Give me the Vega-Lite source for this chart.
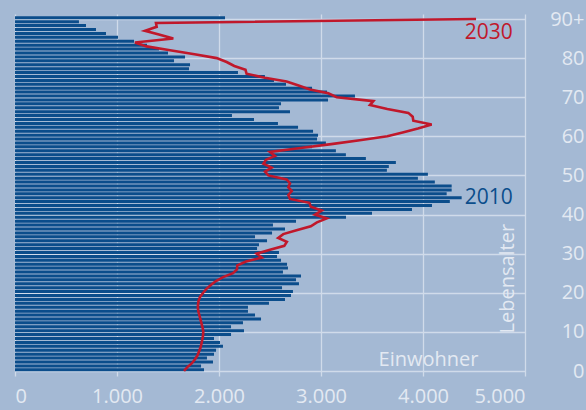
{
  "$schema": "https://vega.github.io/schema/vega-lite/v6.json",
  "width": 510,
  "height": 362,
  "autosize": {"type": "none"},
  "padding": {"left": 15, "top": 14, "right": 61, "bottom": 34},
  "background": "#a4b9d4",
  "config": {
    "view": {"stroke": null},
    "font": "Open Sans",
    "axis": {
      "grid": true,
      "gridColor": "#d0dbea",
      "gridWidth": 1.3,
      "gridOpacity": 1,
      "domain": false,
      "ticks": false,
      "tickSize": 0,
      "labelColor": "#e3e9f2",
      "labelFont": "Open Sans",
      "labelFontSize": 20,
      "titleColor": "#e3e9f2",
      "titleFont": "Open Sans",
      "titleFontSize": 20,
      "titleFontWeight": "normal"
    }
  },
  "datasets": {
    "pop": [
      {"age": 0, "v2010": 1853, "v2030": 1657},
      {"age": 1, "v2010": 1824, "v2030": 1690},
      {"age": 2, "v2010": 1941, "v2030": 1735},
      {"age": 3, "v2010": 1882, "v2030": 1765},
      {"age": 4, "v2010": 1951, "v2030": 1789},
      {"age": 5, "v2010": 1971, "v2030": 1804},
      {"age": 6, "v2010": 2039, "v2030": 1819},
      {"age": 7, "v2010": 2010, "v2030": 1828},
      {"age": 8, "v2010": 1951, "v2030": 1836},
      {"age": 9, "v2010": 2118, "v2030": 1843},
      {"age": 10, "v2010": 2245, "v2030": 1846},
      {"age": 11, "v2010": 2118, "v2030": 1840},
      {"age": 12, "v2010": 2235, "v2030": 1830},
      {"age": 13, "v2010": 2412, "v2030": 1820},
      {"age": 14, "v2010": 2353, "v2030": 1810},
      {"age": 15, "v2010": 2284, "v2030": 1800},
      {"age": 16, "v2010": 2284, "v2030": 1793},
      {"age": 17, "v2010": 2490, "v2030": 1794},
      {"age": 18, "v2010": 2647, "v2030": 1800},
      {"age": 19, "v2010": 2706, "v2030": 1815},
      {"age": 20, "v2010": 2725, "v2030": 1845},
      {"age": 21, "v2010": 2618, "v2030": 1877},
      {"age": 22, "v2010": 2784, "v2030": 1920},
      {"age": 23, "v2010": 2755, "v2030": 1970},
      {"age": 24, "v2010": 2804, "v2030": 2040},
      {"age": 25, "v2010": 2627, "v2030": 2137},
      {"age": 26, "v2010": 2676, "v2030": 2176},
      {"age": 27, "v2010": 2667, "v2030": 2180},
      {"age": 28, "v2010": 2608, "v2030": 2265},
      {"age": 29, "v2010": 2569, "v2030": 2420},
      {"age": 30, "v2010": 2588, "v2030": 2370},
      {"age": 31, "v2010": 2373, "v2030": 2500},
      {"age": 32, "v2010": 2392, "v2030": 2640},
      {"age": 33, "v2010": 2471, "v2030": 2665},
      {"age": 34, "v2010": 2353, "v2030": 2580},
      {"age": 35, "v2010": 2520, "v2030": 2630},
      {"age": 36, "v2010": 2647, "v2030": 2760},
      {"age": 37, "v2010": 2529, "v2030": 2900},
      {"age": 38, "v2010": 2755, "v2030": 2960},
      {"age": 39, "v2010": 3245, "v2030": 3056},
      {"age": 40, "v2010": 3500, "v2030": 2941},
      {"age": 41, "v2010": 3892, "v2030": 3007},
      {"age": 42, "v2010": 4088, "v2030": 2900},
      {"age": 43, "v2010": 4263, "v2030": 2886},
      {"age": 44, "v2010": 4379, "v2030": 2696},
      {"age": 45, "v2010": 4232, "v2030": 2680},
      {"age": 46, "v2010": 4281, "v2030": 2713},
      {"age": 47, "v2010": 4281, "v2030": 2680},
      {"age": 48, "v2010": 4116, "v2030": 2696},
      {"age": 49, "v2010": 3950, "v2030": 2663},
      {"age": 50, "v2010": 4048, "v2030": 2484},
      {"age": 51, "v2010": 3646, "v2030": 2451},
      {"age": 52, "v2010": 3665, "v2030": 2516},
      {"age": 53, "v2010": 3734, "v2030": 2435},
      {"age": 54, "v2010": 3440, "v2030": 2461},
      {"age": 55, "v2010": 3244, "v2030": 2549},
      {"age": 56, "v2010": 3146, "v2030": 2500},
      {"age": 57, "v2010": 2912, "v2030": 2800},
      {"age": 58, "v2010": 3048, "v2030": 3100},
      {"age": 59, "v2010": 2961, "v2030": 3380},
      {"age": 60, "v2010": 2971, "v2030": 3650},
      {"age": 61, "v2010": 2922, "v2030": 3800},
      {"age": 62, "v2010": 2775, "v2030": 3950},
      {"age": 63, "v2010": 2578, "v2030": 4085},
      {"age": 64, "v2010": 2343, "v2030": 3905},
      {"age": 65, "v2010": 2127, "v2030": 3899},
      {"age": 66, "v2010": 2696, "v2030": 3856},
      {"age": 67, "v2010": 2588, "v2030": 3650},
      {"age": 68, "v2010": 2608, "v2030": 3480},
      {"age": 69, "v2010": 3069, "v2030": 3513},
      {"age": 70, "v2010": 3333, "v2030": 3154},
      {"age": 71, "v2010": 3059, "v2030": 3072},
      {"age": 72, "v2010": 2912, "v2030": 2892},
      {"age": 73, "v2010": 2657, "v2030": 2780},
      {"age": 74, "v2010": 2539, "v2030": 2663},
      {"age": 75, "v2010": 2450, "v2030": 2450},
      {"age": 76, "v2010": 2186, "v2030": 2270},
      {"age": 77, "v2010": 1706, "v2030": 2260},
      {"age": 78, "v2010": 1716, "v2030": 2150},
      {"age": 79, "v2010": 1559, "v2030": 2075},
      {"age": 80, "v2010": 1667, "v2030": 1977},
      {"age": 81, "v2010": 1500, "v2030": 1760},
      {"age": 82, "v2010": 1412, "v2030": 1520},
      {"age": 83, "v2010": 1294, "v2030": 1290},
      {"age": 84, "v2010": 1167, "v2030": 1176},
      {"age": 85, "v2010": 1010, "v2030": 1552},
      {"age": 86, "v2010": 892, "v2030": 1420},
      {"age": 87, "v2010": 794, "v2030": 1275},
      {"age": 88, "v2010": 696, "v2030": 1389},
      {"age": 89, "v2010": 627, "v2030": 1382},
      {"age": 90, "v2010": 2059, "v2030": 4520}
    ],
    "labels": [
      {"x": 4880, "age": 86.3, "text": "2030", "series": "2030"},
      {"x": 4880, "age": 44.3, "text": "2010", "series": "2010"}
    ]
  },
  "layer": [
    {
      "data": {"name": "pop"},
      "mark": {"type": "bar", "orient": "horizontal", "size": 3, "color": "#0b4d8b", "yOffset": -1.2},
      "encoding": {
        "x": {
          "field": "v2010", "type": "quantitative",
          "scale": {"domain": [0, 5000], "nice": false},
          "axis": {
            "values": [0, 1000, 2000, 3000, 4000, 5000],
            "labelExpr": "replace(format(datum.value, ',d'), ',', '.')",
            "labelPadding": 10,
            "labelBaseline": "top",
            "title": "Einwohner",
            "titleX": 413,
            "titleY": -11,
            "titleAlign": "center",
            "titleBaseline": "alphabetic",
            "titleAnchor": null
          }
        },
        "y": {
          "field": "age", "type": "quantitative",
          "scale": {"domain": [0, 90], "nice": false},
          "axis": {
            "orient": "right",
            "values": [0, 10, 20, 30, 40, 50, 60, 70, 80, 90],
            "labelExpr": "datum.value === 90 ? '90+' : datum.label",
            "labelAlign": "right",
            "labelBaseline": "middle",
            "labelPadding": 59,
            "title": "Lebensalter",
            "titleAngle": 270,
            "titleX": -12,
            "titleY": 319,
            "titleAlign": "left",
            "titleBaseline": "alphabetic",
            "titleAnchor": null
          }
        }
      }
    },
    {
      "data": {"name": "pop"},
      "mark": {"type": "line", "color": "#c0182b", "strokeWidth": 2.6, "strokeJoin": "miter"},
      "encoding": {
        "x": {"field": "v2030", "type": "quantitative"},
        "y": {"field": "age", "type": "quantitative"},
        "order": {"field": "age", "type": "quantitative"}
      }
    },
    {
      "data": {"name": "labels"},
      "mark": {"type": "text", "align": "right", "baseline": "middle", "fontSize": 21, "font": "Open Sans"},
      "encoding": {
        "x": {"field": "x", "type": "quantitative"},
        "y": {"field": "age", "type": "quantitative"},
        "text": {"field": "text"},
        "color": {
          "field": "series", "type": "nominal",
          "scale": {"domain": ["2030", "2010"], "range": ["#c0182b", "#0b4d8b"]},
          "legend": null
        }
      }
    }
  ]
}
